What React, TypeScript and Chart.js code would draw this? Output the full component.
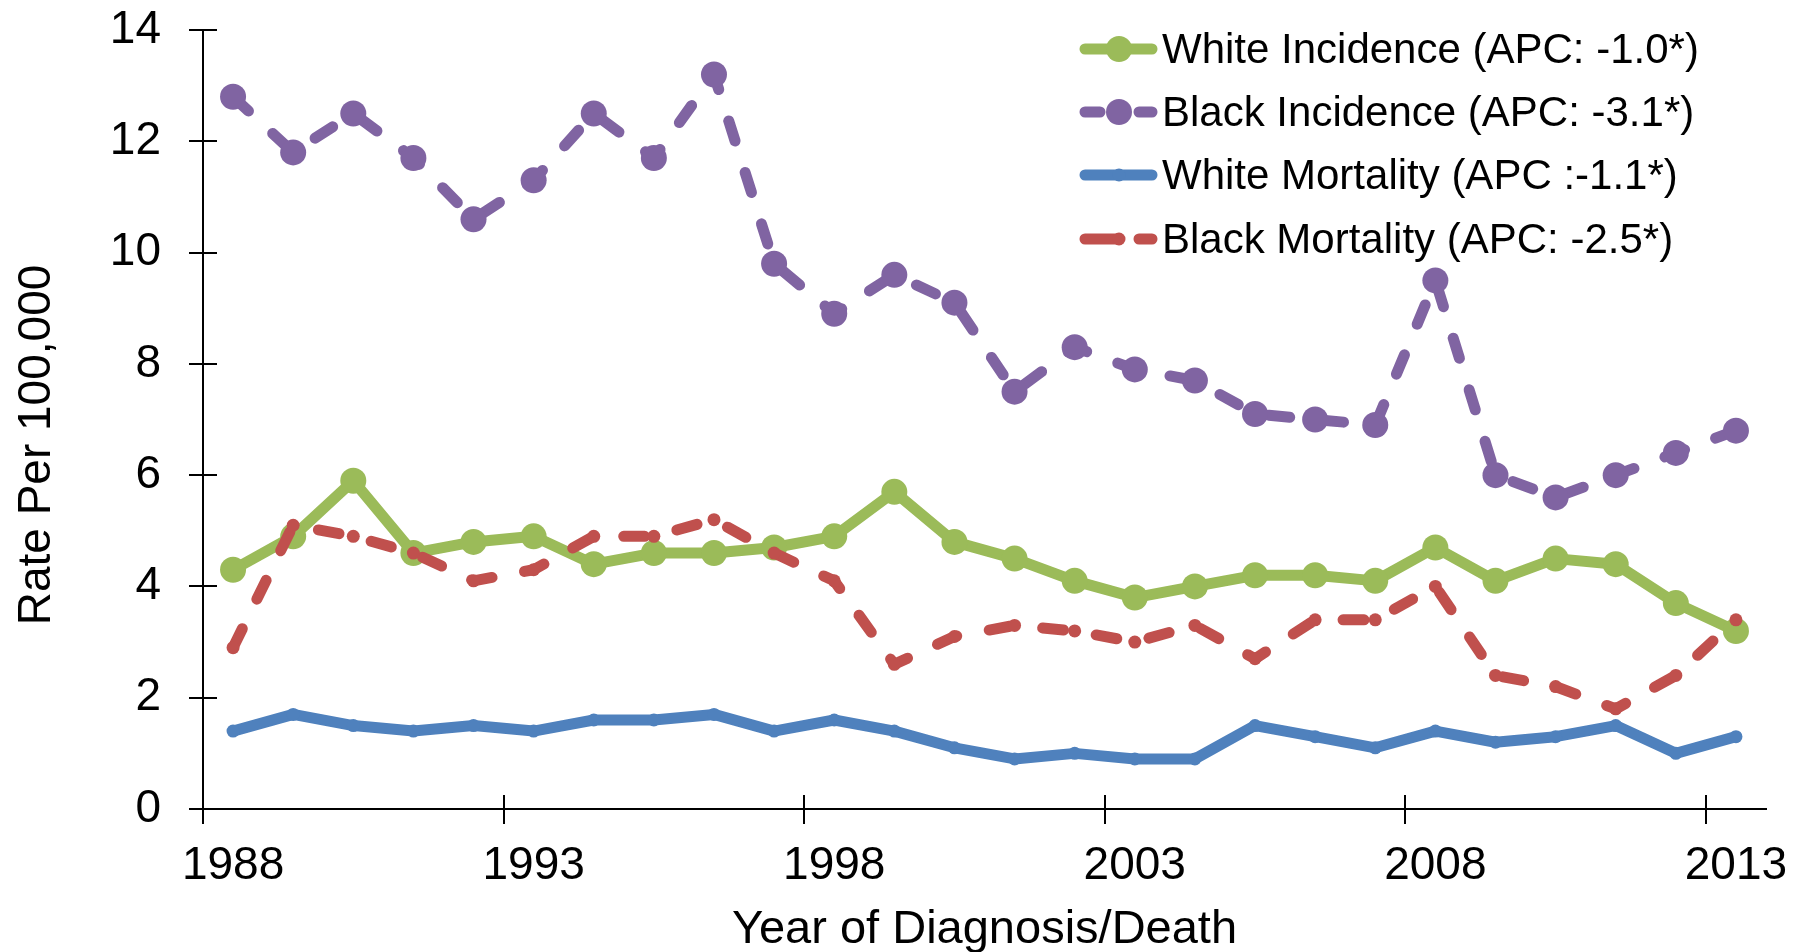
import React, { useEffect, useRef } from "react";
import { Chart, registerables } from "chart.js";

Chart.register(...registerables);

// ---------- DATA ----------
const years = [
  1988, 1989, 1990, 1991, 1992, 1993, 1994, 1995, 1996, 1997, 1998, 1999, 2000,
  2001, 2002, 2003, 2004, 2005, 2006, 2007, 2008, 2009, 2010, 2011, 2012, 2013,
];
const xTickLabels = [1988, 1993, 1998, 2003, 2008, 2013];
const yTickValues = [0, 2, 4, 6, 8, 10, 12, 14];

const whiteIncidence = [
  4.3, 4.9, 5.9, 4.6, 4.8, 4.9, 4.4, 4.6, 4.6, 4.7, 4.9, 5.7, 4.8,
  4.5, 4.1, 3.8, 4.0, 4.2, 4.2, 4.1, 4.7, 4.1, 4.5, 4.4, 3.7, 3.2,
];
const blackIncidence = [
  12.8, 11.8, 12.5, 11.7, 10.6, 11.3, 12.5, 11.7, 13.2, 9.8, 8.9, 9.6, 9.1,
  7.5, 8.3, 7.9, 7.7, 7.1, 7.0, 6.9, 9.5, 6.0, 5.6, 6.0, 6.4, 6.8,
];
const whiteMortality = [
  1.4, 1.7, 1.5, 1.4, 1.5, 1.4, 1.6, 1.6, 1.7, 1.4, 1.6, 1.4, 1.1,
  0.9, 1.0, 0.9, 0.9, 1.5, 1.3, 1.1, 1.4, 1.2, 1.3, 1.5, 1.0, 1.3,
];
const blackMortality = [
  2.9, 5.1, 4.9, 4.6, 4.1, 4.3, 4.9, 4.9, 5.2, 4.6, 4.1, 2.6, 3.1,
  3.3, 3.2, 3.0, 3.3, 2.7, 3.4, 3.4, 4.0, 2.4, 2.2, 1.8, 2.4, 3.4,
];
const seriesNames = [
  "White Incidence (APC: -1.0*)",
  "Black Incidence (APC: -3.1*)",
  "White Mortality (APC :-1.1*)",
  "Black Mortality (APC: -2.5*)",
];
const xTitle = "Year of Diagnosis/Death";
const yTitle = "Rate Per 100,000";

// ---------- STYLE ----------
const FONT = '"Liberation Sans", Arial, sans-serif';
const colors = ["#9BBB59", "#8064A2", "#4F81BD", "#C0504D"];
const dashed = [false, true, false, true];
const radii = [13, 13, 6.5, 6.5];
const legendDash = [[], [15, 39], [], [34, 20]];
const drawOrder = [3, 2, 1, 0];

const decorPlugin = {
  id: "decor",
  beforeDatasetsDraw(chart: any) {
    const ctx = chart.ctx;
    const xs = chart.scales.x;
    const ys = chart.scales.y;
    const area = chart.chartArea;
    ctx.save();
    ctx.strokeStyle = "#000";
    ctx.lineWidth = 2;
    ctx.setLineDash([]);
    ctx.beginPath();
    for (const v of yTickValues) {
      const py = Math.round(ys.getPixelForValue(v));
      ctx.moveTo(area.left - 14, py);
      ctx.lineTo(area.left + 14, py);
    }
    for (const lab of xTickLabels) {
      const px = Math.round(xs.getPixelForValue(lab - 0.5));
      ctx.moveTo(px, area.bottom - 14);
      ctx.lineTo(px, area.bottom + 15);
    }
    ctx.stroke();
    ctx.restore();
  },
  afterDraw(chart: any) {
    const ctx = chart.ctx;
    const area = chart.chartArea;
    ctx.save();
    ctx.fillStyle = "#000";
    // axis titles
    ctx.font = `47px ${FONT}`;
    ctx.textAlign = "center";
    ctx.textBaseline = "alphabetic";
    ctx.fillText(xTitle, (area.left + area.right) / 2, 943);
    ctx.save();
    ctx.translate(50, 445);
    ctx.rotate(-Math.PI / 2);
    ctx.font = `46px ${FONT}`;
    ctx.fillText(yTitle, 0, 0);
    ctx.restore();

    // legend
    const baselines = [63, 126, 189, 253];
    seriesNames.forEach((name, i) => {
      const ly = baselines[i] - 14;
      ctx.save();
      ctx.strokeStyle = colors[i];
      ctx.lineWidth = 11;
      ctx.lineCap = "round";
      ctx.setLineDash(legendDash[i]);
      ctx.beginPath();
      ctx.moveTo(1085, ly);
      ctx.lineTo(1152, ly);
      ctx.stroke();
      ctx.setLineDash([]);
      ctx.fillStyle = colors[i];
      ctx.beginPath();
      ctx.arc(1119, ly, radii[i], 0, Math.PI * 2);
      ctx.fill();
      ctx.restore();
      ctx.font = `42px ${FONT}`;
      ctx.textAlign = "left";
      ctx.textBaseline = "alphabetic";
      ctx.fillStyle = "#000";
      ctx.fillText(name, 1162, baselines[i]);
    });
    ctx.restore();
  },
};

export default function App() {
  const ref = useRef<HTMLCanvasElement | null>(null);

  useEffect(() => {
    if (!ref.current) return;
    const series = [whiteIncidence, blackIncidence, whiteMortality, blackMortality];
    const datasets = series.map((vals, i) => ({
      label: seriesNames[i],
      data: years.map((yr, j) => ({ x: yr, y: vals[j] })),
      borderColor: colors[i],
      backgroundColor: colors[i],
      borderWidth: 11,
      borderDash: dashed[i] ? [21, 33] : [],
      borderCapStyle: "round",
      borderJoinStyle: "round",
      pointRadius: radii[i],
      pointHoverRadius: radii[i],
      pointBackgroundColor: colors[i],
      pointBorderWidth: 0,
      tension: 0,
      fill: false,
      order: drawOrder[i],
    }));

    const chart = new Chart(ref.current, {
      type: "line",
      data: { datasets },
      options: {
        animation: false,
        responsive: false,
        devicePixelRatio: 1,
        events: [],
        layout: { padding: { top: 30, right: 27, bottom: 0, left: 0 } },
        plugins: {
          legend: { display: false },
          tooltip: { enabled: false },
          title: { display: false },
        },
        scales: {
          x: {
            type: "linear",
            min: 1987.5,
            max: 2013.5,
            afterBuildTicks: (s: any) => {
              s.ticks = xTickLabels.map((v) => ({ value: v }));
            },
            afterFit: (s: any) => {
              s.height = 143;
              s.paddingLeft = 0;
              s.paddingRight = 0;
            },
            ticks: {
              callback: (v: any) => String(v),
              font: { family: FONT, size: 46 },
              color: "#000",
              padding: 30,
              maxRotation: 0,
              autoSkip: false,
            },
            grid: { display: false, drawTicks: false },
            border: { display: true, color: "#000", width: 2 },
          },
          y: {
            type: "linear",
            min: 0,
            max: 14,
            afterBuildTicks: (s: any) => {
              s.ticks = yTickValues.map((v) => ({ value: v }));
            },
            afterFit: (s: any) => {
              s.width = 203;
              s.paddingTop = 0;
              s.paddingBottom = 0;
            },
            ticks: {
              callback: (v: any) => String(v),
              font: { family: FONT, size: 46 },
              color: "#000",
              padding: 42,
            },
            grid: { display: false, drawTicks: false },
            border: { display: true, color: "#000", width: 2 },
          },
        },
      } as any,
      plugins: [decorPlugin],
    });
    return () => chart.destroy();
  }, []);

  return (
    <div style={{ position: "absolute", left: 0, top: 0, width: 1793, height: 952, background: "#fff" }}>
      <canvas ref={ref} width={1793} height={952} style={{ display: "block", width: 1793, height: 952 }} />
    </div>
  );
}
